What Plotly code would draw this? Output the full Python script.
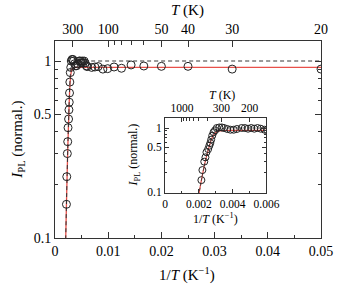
import plotly.graph_objects as go

# ---- data ----
inv_T = [0.00215, 0.00221, 0.00232, 0.00239, 0.00245, 0.00255, 0.00262, 0.00268,
         0.00273, 0.00279, 0.00287, 0.00296, 0.00306, 0.00321, 0.00336, 0.00349,
         0.00368, 0.00387, 0.00406, 0.00425, 0.00453, 0.00472, 0.00491, 0.00510,
         0.00528, 0.00547, 0.00566, 0.00589, 0.00604, 0.0069, 0.0075, 0.0081,
         0.0090, 0.0099, 0.0111, 0.0125, 0.0143, 0.0167, 0.0200, 0.0250, 0.0333, 0.0500]
I_pl = [0.155, 0.222, 0.30, 0.35, 0.42, 0.47, 0.53, 0.585,
        0.66, 0.76, 0.86, 0.92, 1.0, 1.02, 1.02, 1.0,
        0.965, 0.94, 0.94, 0.965, 1.0, 1.0, 0.975, 1.0,
        0.975, 1.0, 0.975, 0.94, 0.93, 0.92, 0.925, 0.93,
        0.90, 0.905, 0.925, 0.91, 0.95, 0.937, 0.933, 0.933, 0.90, 0.90]

fit_x = [0.0019, 0.0020, 0.0022, 0.0024, 0.0026, 0.0028, 0.0030, 0.0032, 0.0035, 0.0040, 0.0060, 0.0500]
fit_red = [0.075, 0.095, 0.18, 0.32, 0.50, 0.72, 0.85, 0.90, 0.915, 0.92, 0.92, 0.92]
fit_black = [0.075, 0.095, 0.18, 0.32, 0.51, 0.76, 0.91, 0.97, 0.99, 1.0, 1.0, 1.0]

top_T_major = [300, 100, 50, 40, 30, 20]
top_T_minor = [90, 80, 70, 60]
inset_T_major = [1000, 300, 200]
inset_T_minor = [900, 800, 700, 600, 500, 400]

y_major = [0.1, 0.5, 1]
y_minor = [0.2, 0.3, 0.4, 0.6, 0.7, 0.8, 0.9]

FONT = "Liberation Serif"
RED = "#e8504a"
AX = "#333333"

fig = go.Figure()

# main plot
fig.add_trace(go.Scatter(x=fit_x, y=fit_red, mode="lines", line=dict(color=RED, width=1.3, shape="spline"),
                         xaxis="x", yaxis="y", hoverinfo="skip"))
fig.add_trace(go.Scatter(x=fit_x, y=fit_black, mode="lines", line=dict(color="#333333", width=1, dash="4px,3px", shape="spline"),
                         xaxis="x", yaxis="y", hoverinfo="skip"))
fig.add_trace(go.Scatter(x=inv_T, y=I_pl, mode="markers",
                         marker=dict(symbol="circle-open", size=8, color="#222222", line=dict(width=1)),
                         xaxis="x", yaxis="y"))
# dummy on top axis
fig.add_trace(go.Scatter(x=inv_T, y=I_pl, mode="markers", marker=dict(opacity=0), xaxis="x2", yaxis="y", hoverinfo="skip"))

# inset
fig.add_trace(go.Scatter(x=fit_x, y=fit_red, mode="lines", line=dict(color=RED, width=1.2, shape="spline"),
                         xaxis="x3", yaxis="y3", hoverinfo="skip"))
fig.add_trace(go.Scatter(x=fit_x, y=fit_black, mode="lines", line=dict(color="#333333", width=0.8, dash="3px,2px", shape="spline"),
                         xaxis="x3", yaxis="y3", hoverinfo="skip"))
fig.add_trace(go.Scatter(x=inv_T, y=I_pl, mode="markers",
                         marker=dict(symbol="circle-open", size=7, color="#222222", line=dict(width=1)),
                         xaxis="x3", yaxis="y3"))
fig.add_trace(go.Scatter(x=inv_T, y=I_pl, mode="markers", marker=dict(opacity=0), xaxis="x4", yaxis="y3", hoverinfo="skip"))

tickfont = dict(family=FONT, size=14, color="black")
ifont = dict(family=FONT, size=11.5, color="black")

common = dict(showgrid=False, zeroline=False, showline=True, linecolor=AX, linewidth=1,
              ticks="inside", tickcolor=AX)

fig.update_layout(
    width=346, height=289,
    margin=dict(l=55, r=13, t=41, b=51),
    paper_bgcolor="white", plot_bgcolor="white",
    showlegend=False,
    xaxis=dict(**common, range=[0, 0.05], domain=[0, 1], anchor="y", mirror=True,
               tickvals=[0, 0.01, 0.02, 0.03, 0.04, 0.05],
               ticktext=["0", "0.01", "0.02", "0.03", "0.04", "0.05"],
               ticklen=6, tickfont=tickfont,
               minor=dict(tickvals=[0.005, 0.015, 0.025, 0.035, 0.045], ticklen=3, ticks="inside", tickcolor=AX)),
    xaxis2=dict(**common, range=[0, 0.05], overlaying="x", side="top", anchor="y",
                tickvals=[1 / t for t in top_T_major], ticktext=[str(t) for t in top_T_major],
                ticklen=6, tickfont=tickfont,
                minor=dict(tickvals=[1 / t for t in top_T_minor], ticklen=4, ticks="inside", tickcolor=AX)),
    yaxis=dict(**common, type="log", range=[-1, 0.113], domain=[0, 1], anchor="x", mirror="ticks",
               tickvals=y_major, ticktext=["0.1", "0.5", "1"], ticklen=6, tickfont=tickfont,
               minor=dict(tickvals=y_minor, ticklen=3, ticks="inside", tickcolor=AX)),
    xaxis3=dict(**common, range=[0, 0.006], domain=[0.4137, 0.795], anchor="y3", mirror=True,
                tickvals=[0, 0.002, 0.004, 0.006], ticktext=["0", "0.002", "0.004", "0.006"],
                ticklen=4, tickfont=ifont, ticklabelstandoff=0,
                minor=dict(tickvals=[0.001, 0.003, 0.005], ticklen=2, ticks="inside", tickcolor=AX)),
    xaxis4=dict(**common, range=[0, 0.006], overlaying="x3", side="top", anchor="y3",
                tickvals=[1 / t for t in inset_T_major], ticktext=[str(t) for t in inset_T_major],
                ticklen=4, tickfont=ifont, ticklabelstandoff=0,
                minor=dict(tickvals=[1 / t for t in inset_T_minor], ticklen=3, ticks="inside", tickcolor=AX)),
    yaxis3=dict(**common, type="log", range=[-1.01, 0.155], domain=[0.2284, 0.609], anchor="x3", mirror="ticks",
                tickvals=y_major, ticktext=["0.1", "0.5", "1"], ticklen=4, tickfont=ifont,
                minor=dict(tickvals=y_minor, ticklen=2, ticks="inside", tickcolor=AX)),
)

ann_font = dict(family=FONT, size=15, color="black")
ann_ifont = dict(family=FONT, size=12, color="black")
W, H = 346, 289
L, R, T, B = 55, 13, 41, 51
pw, ph = W - L - R, H - T - B


def px(x):
    return (x - L) / pw


def py(y):
    return (H - B - y) / ph


annotations = [
    dict(text="<i>T</i> (K)", x=px(193), y=py(10), font=ann_font),
    dict(text="1/<i>T</i> (K<sup>−1</sup>)", x=px(193), y=py(274), font=ann_font),
    dict(text="<i>I</i><sub>PL</sub> (normal.)", x=px(16), y=py(140), font=ann_font, textangle=-90),
    dict(text="<i>T</i> (K)", x=px(230), y=py(95), font=ann_ifont),
    dict(text="1/<i>T</i> (K<sup>−1</sup>)", x=px(223), y=py(218), font=ann_ifont),
    dict(text="<i>I</i><sub>PL</sub> (normal.)", x=px(138), y=py(155), font=ann_ifont, textangle=-90),
]
for a in annotations:
    a.update(xref="paper", yref="paper", showarrow=False, xanchor="center", yanchor="middle")
fig.update_layout(annotations=annotations)

fig.write_html("out.html")
